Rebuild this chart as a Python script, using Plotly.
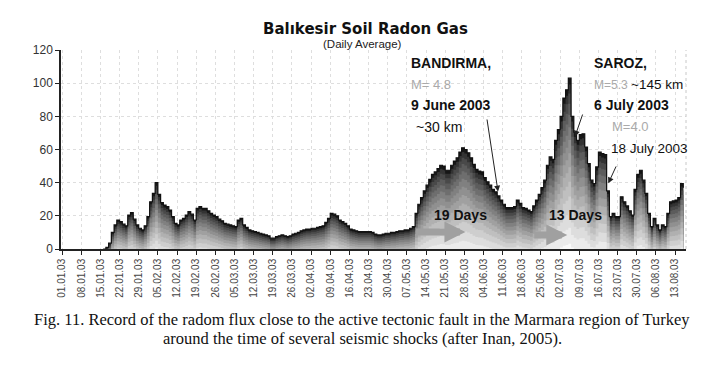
import pandas as pd
import plotly.graph_objects as go

# ---- data: daily average radon (starting 16 Jan 2003) ----
start_date = "2003-01-16"
jan = [0, 1, 3.5, 10, 14.5, 17.5, 16.5, 15, 14, 20.5, 22, 18, 14.5, 12.5, 11.5, 14]
feb = [19.5, 28.5, 33.5, 40, 33, 28, 26.5, 25.5, 23.5, 19.5, 15.5, 14.5, 17.5, 18.5,
       20.5, 22.5, 21, 17.5, 24.5, 25.5, 24.5, 24.5, 23, 21.5, 20.5, 19.5, 18, 17]
mar = [15.5, 15, 14.5, 14, 13.5, 17.5, 18.5, 14.5, 13, 11.5, 11, 10.5, 10, 9.5, 9, 8.5,
       8, 6.5, 6.5, 7.5, 8, 8.5, 8, 7.5, 8, 9, 9.5, 10, 11, 11.5, 12]
apr = [12, 12.5, 12.5, 13, 13.5, 14, 16, 18.5, 21.5, 21, 20, 17.5, 16.5, 15.5, 14, 12,
       11.5, 11, 10.5, 10.5, 10.5, 10.5, 10.5, 10, 9, 8.5, 8.5, 9, 9.5, 9.5]
may = [10, 10, 10.5, 11, 11, 11.5, 11.5, 12.5, 13.5, 21.5, 27, 31, 35, 38.5, 42, 45,
       46.5, 48.5, 50.5, 50, 47.5, 47.5, 50.5, 53, 55, 58.5, 61, 60, 58, 55, 51]
jun = [48, 47, 46.5, 43, 40.5, 38.5, 36, 34.5, 32, 29.5, 27, 25, 25, 25, 25.5, 29.5,
       27.5, 25, 24.5, 23.5, 22.5, 26, 29.5, 33, 37, 41.5, 50.5, 55.5, 54, 65.5]
jul = [72, 80, 91, 96, 103, 80, 70.5, 65.5, 69, 69.5, 61.5, 51.5, 41.5, 39.5, 49.5,
       58.5, 57.5, 57, 35, 19.5, 21.5, 19.5, 19.5, 31.5, 28.5, 26, 23, 20.5, 36, 45, 47.5]
aug = [41.5, 33.5, 21.5, 13.5, 18.5, 14.5, 11.5, 14.5, 13.5, 21.5, 28.5, 29, 29.5, 31,
       39.5, 37]

values = jan + feb + mar + apr + may + jun + jul + aug
dates = pd.date_range(start_date, periods=len(values), freq="D")

tick_dates = pd.date_range("2003-01-01", "2003-08-13", freq="7D")
tick_labels = [d.strftime("%d.%m.%y") for d in tick_dates]

BASE = pd.Timestamp("2003-01-01")


def day(d):
    return BASE + pd.Timedelta(days=d)


fig = go.Figure()

# shaded "3D" area built from layered copies of the series
N = 14
for i in range(N):
    t = i / (N - 1)
    a = 0.55 * i
    b = 0.9 * t ** 1.3
    g = int(22 + (250 - 22) * (t ** 0.8))
    col = f"rgb({g},{g},{g})"
    yk = [max(v - (a + b * v), 0) for v in values]
    fig.add_trace(go.Scatter(
        x=dates, y=yk, mode="lines", line=dict(width=0, shape="hv", color=col),
        fill="tozeroy", fillcolor=col, hoverinfo="skip", showlegend=False))

fig.add_trace(go.Scatter(
    x=dates, y=values, mode="lines", line=dict(width=1.2, shape="hv", color="#111"),
    showlegend=False))

ann = []
FONT = "Liberation Sans, Arial"


def txt(d, v, s, size=14, bold=False, color="#111"):
    ann.append(dict(x=day(d), y=v, xref="x", yref="y", text=(f"<b>{s}</b>" if bold else s),
                    showarrow=False, xanchor="left", yanchor="middle",
                    font=dict(family=FONT, size=size, color=color)))


txt(126.6, 112, "BANDIRMA,", bold=True)
txt(126.6, 98.9, "M= 4.8", size=13, color="#aaaaaa")
txt(126.6, 86.9, "9 June 2003", bold=True)
txt(128.5, 73.6, "~30 km")
txt(193.8, 112, "SAROZ,", bold=True)
txt(193.8, 98.9, "M=5.3", size=12, color="#aaaaaa")
txt(207.0, 98.9, "~145 km", size=13.5)
txt(193.8, 86.9, "6 July 2003", bold=True)
txt(200.4, 73.6, "M=4.0", size=13, color="#aaaaaa")
txt(200.0, 60.9, "18 July 2003", size=13.5)
txt(135.0, 20.5, "19 Days", bold=True)
txt(177.3, 20.5, "13 Days", bold=True)


def arrow(d0, v0, d1, v1, width=1, color="#222", size=1.0, head=2):
    ann.append(dict(x=day(d1), y=v1, ax=day(d0), ay=v0, xref="x", yref="y",
                    axref="x", ayref="y", showarrow=True, arrowhead=head,
                    arrowsize=size, arrowwidth=width, arrowcolor=color, text=""))


arrow(128.8, 10.3, 147.4, 10.3, width=7, color="#a0a0a0", size=0.6)
arrow(172.0, 8.4, 184.6, 8.4, width=7, color="#a0a0a0", size=0.6)
arrow(155.2, 79, 159.3, 34.6, width=1, size=1.2)
arrow(190.4, 82, 187.4, 67.7, width=1, size=1.2)
arrow(202.7, 50.7, 199.6, 39.6, width=1, size=1.2)

ann.append(dict(x=0.487, y=1.0, xref="paper", yref="paper", yshift=32.5,
                text="<b>Balıkesir Soil Radon Gas</b>", showarrow=False,
                font=dict(family="DejaVu Sans", size=15, color="#111")))
ann.append(dict(x=0.483, y=1.0, xref="paper", yref="paper", yshift=14,
                text="(Daily Average)", showarrow=False,
                font=dict(family=FONT, size=11.5, color="#222")))
SERIF = "Liberation Serif, Times New Roman"
ann.append(dict(x=0.482, y=(249 - 331) / 199, xref="paper", yref="paper",
                text="Fig. 11. Record of the radom flux close to the active tectonic fault in the Marmara region of Turkey",
                showarrow=False, font=dict(family=SERIF, size=16.5, color="#111")))
ann.append(dict(x=0.482, y=(249 - 350) / 199, xref="paper", yref="paper",
                text="around the time of several seismic shocks (after Inan, 2005).",
                showarrow=False, font=dict(family=SERIF, size=16.5, color="#111")))

fig.update_layout(
    width=711, height=359,
    margin=dict(l=53, r=33, t=42, b=118),
    paper_bgcolor="white", plot_bgcolor="white",
    annotations=ann,
    shapes=[dict(type="line", xref="paper", yref="paper", x0=1, x1=1, y0=0, y1=1,
                 line=dict(color="#c8c8c8", width=1, dash="dot"))],
    xaxis=dict(range=[day(-0.4), day(228)], tickvals=tick_dates, ticktext=tick_labels,
               tickangle=-90, tickfont=dict(family=FONT, size=10, color="#444"),
               showgrid=True, gridcolor="#dedede", griddash="dot", gridwidth=1,
               showline=True, linecolor="#222", linewidth=1.5,
               ticks="outside", ticklen=4, tickcolor="#222", zeroline=False),
    yaxis=dict(range=[0, 120], tickvals=[0, 20, 40, 60, 80, 100, 120],
               tickfont=dict(family=FONT, size=12, color="#333"),
               showgrid=True, gridcolor="#dedede", griddash="dot", gridwidth=1,
               showline=True, linecolor="#222", linewidth=1.5,
               ticks="outside", ticklen=4, tickcolor="#222", zeroline=False),
)

fig.write_html("out.html")
